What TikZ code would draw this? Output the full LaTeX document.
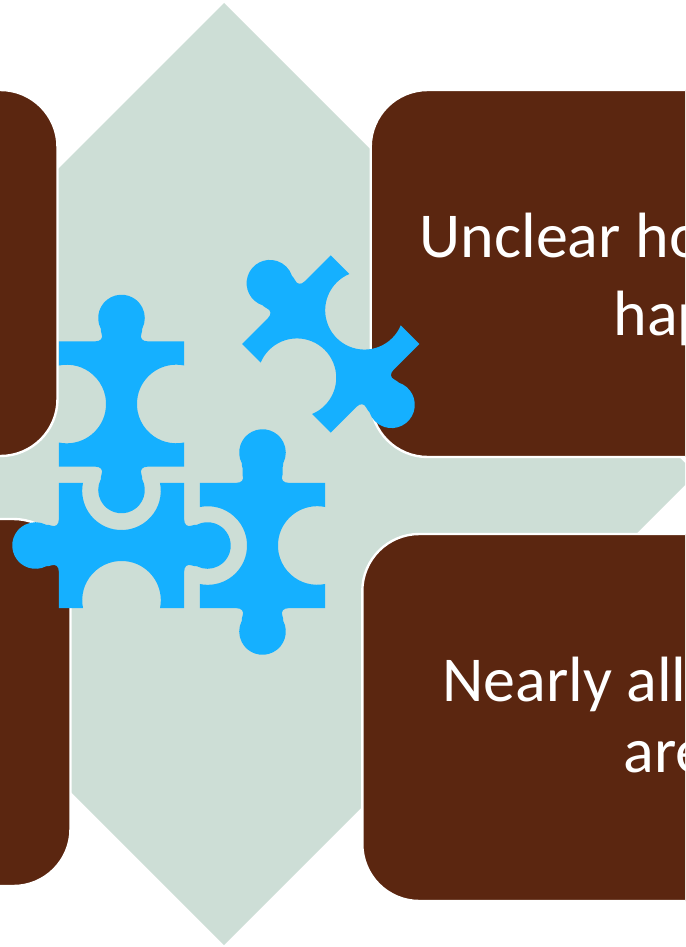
\documentclass[tikz,border=0pt]{standalone}
\usepackage{fontspec}
\setmainfont{Carlito}
\definecolor{brownbox}{HTML}{5B2610}
\definecolor{palebg}{HTML}{CDDED6}
\definecolor{puzzle}{HTML}{15B0FF}
\tikzset{
  x=1pt,y=1pt,
  backshape/.style={fill=palebg,draw=none},
  brownpanel/.style={fill=brownbox,draw=white,line width=2.4pt,rounded corners=57pt},
  puzzlepiece/.style={fill=puzzle,draw=none},
  paneltext/.style={text=white,inner sep=0pt,anchor=base west,font=\fontsize{64}{64}\selectfont},
}
% #1 extra length of the top tab, #2 notch angle, #3 notch half chord
\newcommand{\piecepath}[3]{
  (-62.7,62.7) -- (-26,62.7) .. controls (-21,62.7) and (-18,65.7) .. (-20,70.7)
  -- (-20,70.7+#1)
  .. controls (-20.6,72.5+#1) and (-20.8,74+#1) .. (-20.76,75.4+#1)
  arc[start angle=207,end angle=-27,radius=23.3]
  .. controls (20.8,74+#1) and (20.6,72.5+#1) .. (20,70.7+#1)
  -- (20,70.7)
  .. controls (18,65.7) and (21,62.7) .. (26,62.7)
  -- (62.7,62.7) -- (62.7,#3)
  arc[start angle=#2,end angle=360-#2,radius=39.3]
  -- (62.7,-62.7) -- (26,-62.7)
  .. controls (21,-62.7) and (18,-65.7) .. (20,-70.7)
  .. controls (20.6,-72.5) and (20.8,-74) .. (20.76,-75.4)
  arc[start angle=27,end angle=-207,radius=23.3]
  .. controls (-20.8,-74) and (-20.6,-72.5) .. (-20,-70.7)
  .. controls (-18,-65.7) and (-21,-62.7) .. (-26,-62.7)
  -- (-62.7,-62.7) -- (-62.7,-#3)
  arc[start angle=#2-180,end angle=180-#2,radius=39.3]
  -- cycle
}
\begin{document}
\begin{tikzpicture}
\clip (0,0) rectangle (685,-947);
\fill[white] (0,0) rectangle (685,-947);
% background cross
\path[backshape] (224,-3) -- (400,-179) -- (400,-769) -- (224,-945) -- (50,-771) -- (50,-177) -- cycle;
\path[backshape] (696,-474) -- (600,-378) -- (-20,-378) -- (-20,-570) -- (600,-570) -- cycle;
% panels
\draw[brownpanel] (-150,-90) rectangle (57.5,-456);
\draw[brownpanel] (-150,-519) rectangle (70.5,-886);
\draw[brownpanel] (370.7,-90) rectangle (900,-457);
\draw[brownpanel] (362.3,-534) rectangle (900,-901);
% texts
\node[paneltext] (t1) at (419.5,-257) {Unclear ho};
\node[paneltext] (t2) at (613.5,-335) {hap};
\node[paneltext] (t3) at (442,-701.5) {Nearly all};
\node[paneltext] (t4) at (623.5,-772) {are};
% puzzle pieces
\path[puzzlepiece,shift={(121.5,-404)}] \piecepath{0}{78.3}{38.5};
\path[puzzlepiece,shift={(262.5,-545.5)}] \piecepath{7}{78.3}{38.5};
\path[puzzlepiece,shift={(121.5,-545.5)},rotate=90] \piecepath{0}{78.3}{38.5};
\path[puzzlepiece,shift={(330.7,-344)},rotate=45] \piecepath{0}{67.6}{36.3};
\end{tikzpicture}
\end{document}
